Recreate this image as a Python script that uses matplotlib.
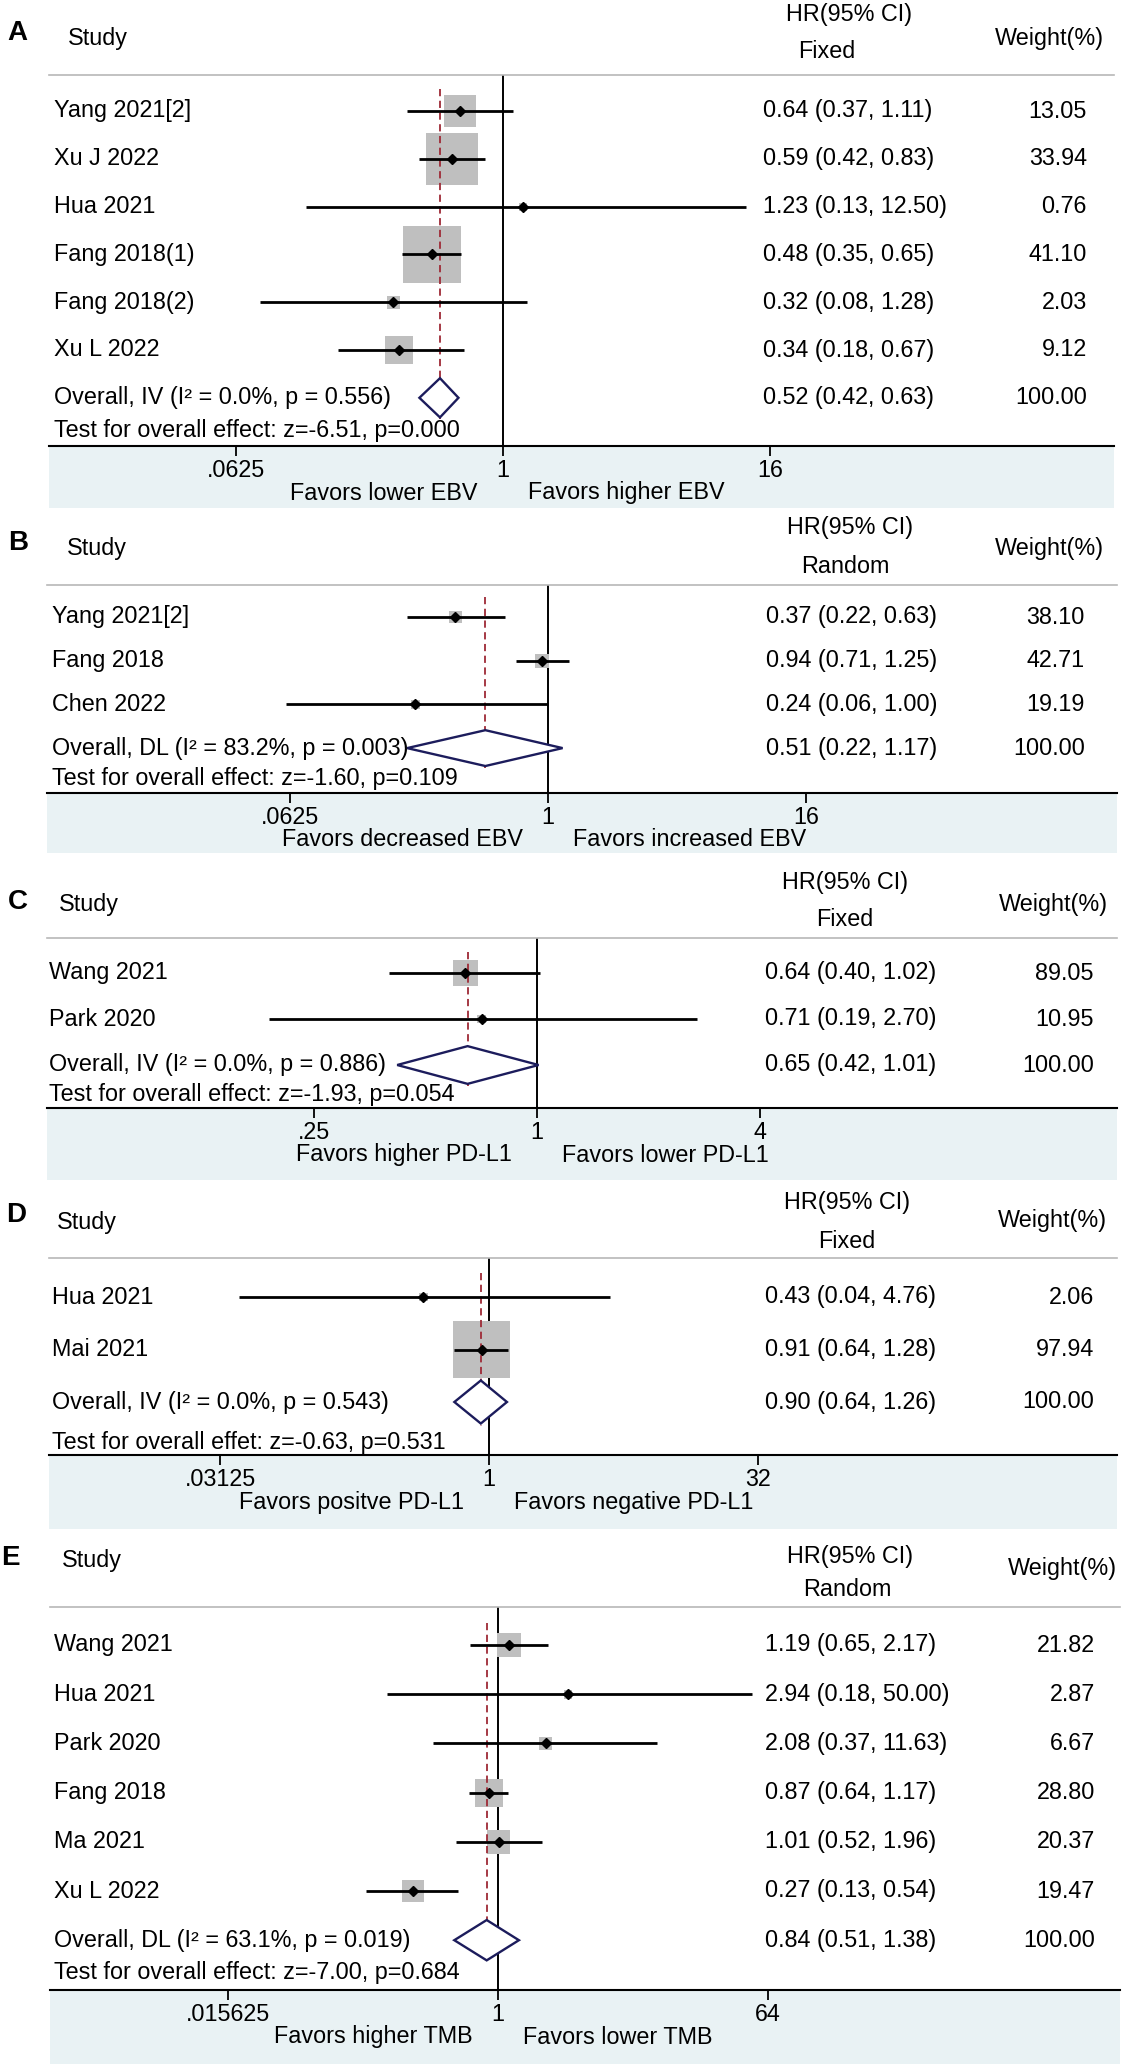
import numpy as np
import matplotlib.pyplot as plt
from matplotlib import transforms
from matplotlib.patches import Rectangle

plt.rcParams['font.family'] = ['Liberation Sans', 'DejaVu Sans']

W, H = 1123, 2067

# A: EBV lower vs higher (fixed)
a_study = ['Yang 2021[2]', 'Xu J 2022', 'Hua 2021', 'Fang 2018(1)', 'Fang 2018(2)', 'Xu L 2022']
a_hr = [0.64, 0.59, 1.23, 0.48, 0.32, 0.34]
a_lo = [0.37, 0.42, 0.13, 0.35, 0.08, 0.18]
a_hi = [1.11, 0.83, 12.50, 0.65, 1.28, 0.67]
a_weight = [13.05, 33.94, 0.76, 41.10, 2.03, 9.12]
a_overall = [0.52, 0.42, 0.63]
a_overall_label = 'Overall, IV (I² = 0.0%, p = 0.556)'
a_test = 'Test for overall effect: z=-6.51, p=0.000'
a_model = 'Fixed'
a_ticks = [0.0625, 1, 16]
a_tick_labels = ['.0625', '1', '16']
a_favors = ['Favors lower EBV', 'Favors higher EBV']

# B: EBV decreased vs increased (random)
b_study = ['Yang 2021[2]', 'Fang 2018', 'Chen 2022']
b_hr = [0.37, 0.94, 0.24]
b_lo = [0.22, 0.71, 0.06]
b_hi = [0.63, 1.25, 1.00]
b_weight = [38.10, 42.71, 19.19]
b_overall = [0.51, 0.22, 1.17]
b_overall_label = 'Overall, DL (I² = 83.2%, p = 0.003)'
b_test = 'Test for overall effect: z=-1.60, p=0.109'
b_model = 'Random'
b_ticks = [0.0625, 1, 16]
b_tick_labels = ['.0625', '1', '16']
b_favors = ['Favors decreased EBV', 'Favors increased EBV']

# C: PD-L1 higher vs lower (fixed)
c_study = ['Wang 2021', 'Park 2020']
c_hr = [0.64, 0.71]
c_lo = [0.40, 0.19]
c_hi = [1.02, 2.70]
c_weight = [89.05, 10.95]
c_overall = [0.65, 0.42, 1.01]
c_overall_label = 'Overall, IV (I² = 0.0%, p = 0.886)'
c_test = 'Test for overall effect: z=-1.93, p=0.054'
c_model = 'Fixed'
c_ticks = [0.25, 1, 4]
c_tick_labels = ['.25', '1', '4']
c_favors = ['Favors higher PD-L1', 'Favors lower PD-L1']

# D: PD-L1 positive vs negative (fixed)
d_study = ['Hua 2021', 'Mai 2021']
d_hr = [0.43, 0.91]
d_lo = [0.04, 0.64]
d_hi = [4.76, 1.28]
d_weight = [2.06, 97.94]
d_overall = [0.90, 0.64, 1.26]
d_overall_label = 'Overall, IV (I² = 0.0%, p = 0.543)'
d_test = 'Test for overall effet: z=-0.63, p=0.531'
d_model = 'Fixed'
d_ticks = [0.03125, 1, 32]
d_tick_labels = ['.03125', '1', '32']
d_favors = ['Favors positve PD-L1', 'Favors negative PD-L1']

# E: TMB higher vs lower (random)
e_study = ['Wang 2021', 'Hua 2021', 'Park 2020', 'Fang 2018', 'Ma 2021', 'Xu L 2022']
e_hr = [1.19, 2.94, 2.08, 0.87, 1.01, 0.27]
e_lo = [0.65, 0.18, 0.37, 0.64, 0.52, 0.13]
e_hi = [2.17, 50.00, 11.63, 1.17, 1.96, 0.54]
e_weight = [21.82, 2.87, 6.67, 28.80, 20.37, 19.47]
e_overall = [0.84, 0.51, 1.38]
e_overall_label = 'Overall, DL (I² = 63.1%, p = 0.019)'
e_test = 'Test for overall effect: z=-7.00, p=0.684'
e_model = 'Random'
e_ticks = [0.015625, 1, 64]
e_tick_labels = ['.015625', '1', '64']
e_favors = ['Favors higher TMB', 'Favors lower TMB']

panels = [
    ('A', a_study, a_hr, a_lo, a_hi, a_weight, a_overall, a_overall_label, a_test, a_model, a_ticks, a_tick_labels, a_favors),
    ('B', b_study, b_hr, b_lo, b_hi, b_weight, b_overall, b_overall_label, b_test, b_model, b_ticks, b_tick_labels, b_favors),
    ('C', c_study, c_hr, c_lo, c_hi, c_weight, c_overall, c_overall_label, c_test, c_model, c_ticks, c_tick_labels, c_favors),
    ('D', d_study, d_hr, d_lo, d_hi, d_weight, d_overall, d_overall_label, d_test, d_model, d_ticks, d_tick_labels, d_favors),
    ('E', e_study, e_hr, e_lo, e_hi, e_weight, e_overall, e_overall_label, e_test, e_model, e_ticks, e_tick_labels, e_favors),
]

# pixel layout of each panel (measured on the reference)
layout = [
    dict(left=49, right=1114, header=75, row0=111, sp=47.8, test=430, axis=446, shade=508, p1=503, ppu=66.8, k=9.0,
         letter=(17, 33), study=(68, 38), hrh=(849, 15), model=(827, 52), wth=(1049, 38), name_x=54, hr_x=763, wt_x=1087),
    dict(left=47, right=1117, header=585, row0=617, sp=43.7, test=778, axis=793, shade=853, p1=548, ppu=64.5, k=2.1,
         letter=(18, 543), study=(67, 548), hrh=(850, 528), model=(845, 567), wth=(1049, 548), name_x=52, hr_x=766, wt_x=1085),
    dict(left=47, right=1117, header=938, row0=973, sp=46, test=1095, axis=1108, shade=1180, p1=537, ppu=111.7, k=2.65,
         letter=(18, 902), study=(59, 904), hrh=(845, 883), model=(845, 919), wth=(1053, 904), name_x=49, hr_x=765, wt_x=1094),
    dict(left=49, right=1117, header=1258, row0=1297, sp=52.5, test=1442, axis=1455, shade=1529, p1=489, ppu=53.8, k=5.76,
         letter=(16, 1215), study=(57, 1223), hrh=(847, 1203), model=(847, 1242), wth=(1052, 1220), name_x=52, hr_x=765, wt_x=1094),
    dict(left=50, right=1120, header=1607, row0=1645, sp=49.2, test=1972, axis=1990, shade=2064, p1=498, ppu=45, k=5.2,
         letter=(10, 1558), study=(62, 1561), hrh=(850, 1556), model=(847, 1590), wth=(1062, 1569), name_x=54, hr_x=765, wt_x=1095),
]

FS = 16.8
fig = plt.figure(figsize=(W / 100, H / 100), dpi=100)


def fx(px):
    return px / W


def fy(py):
    return 1 - py / H


for (letter, study, hr, lo, hi, weight, overall, overall_label, test, model, ticks, tick_labels, favors), L in zip(panels, layout):
    n = len(study)
    ax = fig.add_axes([fx(L['left']), fy(L['axis']), (L['right'] - L['left']) / W, (L['axis'] - L['header']) / H])
    ax.patch.set_alpha(0)
    ax.set_xscale('log', base=2)
    ax.set_xlim(2 ** (-(L['p1'] - L['left']) / L['ppu']), 2 ** ((L['right'] - L['p1']) / L['ppu']))
    ax.set_ylim((L['axis'] - L['row0']) / L['sp'], (L['header'] - L['row0']) / L['sp'])

    rows = np.arange(n)
    ax.axvline(1, color='black', lw=1.4, zorder=1)
    ax.vlines(overall[0], -0.45, n + 0.45, color='#9e2a36', lw=1.3, linestyles=(0, (4, 2.5)), zorder=3)

    side = L['k'] * np.sqrt(weight) * 0.72
    ax.scatter(hr, rows, s=side ** 2, marker='s', color='#bfbfbf', linewidths=0, zorder=2)
    ax.hlines(rows, lo, hi, color='black', lw=2.0, zorder=4)
    ax.plot(hr, rows, ls='none', marker='D', ms=4.6, color='black', zorder=5)

    h = 0.41
    ax.fill([overall[1], overall[0], overall[2], overall[0]], [n, n - h, n, n + h],
            facecolor='white', edgecolor='#1c1c5c', lw=1.7, zorder=4)

    for side_name in ['left', 'right']:
        ax.spines[side_name].set_visible(False)
    ax.spines['top'].set_color('#b8b8b8')
    ax.spines['top'].set_linewidth(1.2)
    ax.spines['bottom'].set_linewidth(1.5)
    ax.set_yticks([])
    ax.xaxis.set_minor_locator(plt.NullLocator())
    ax.set_xticks(ticks, labels=tick_labels)
    ax.tick_params(axis='x', direction='out', length=7, width=1.3, labelsize=FS, pad=2.5)

    tr = transforms.blended_transform_factory(fig.transFigure, ax.transData)
    for i in range(n):
        ax.text(fx(L['name_x']), i, study[i], transform=tr, fontsize=FS, va='center', ha='left')
        ax.text(fx(L['hr_x']), i, f'{hr[i]:.2f} ({lo[i]:.2f}, {hi[i]:.2f})', transform=tr,
                fontsize=FS, va='center', ha='left')
        ax.text(fx(L['wt_x']), i, f'{weight[i]:.2f}', transform=tr, fontsize=FS, va='center', ha='right')
    ax.text(fx(L['name_x']), n, overall_label, transform=tr, fontsize=FS, va='center', ha='left')
    ax.text(fx(L['hr_x']), n, f'{overall[0]:.2f} ({overall[1]:.2f}, {overall[2]:.2f})', transform=tr,
            fontsize=FS, va='center', ha='left')
    ax.text(fx(L['wt_x']), n, f'{sum(weight):.2f}', transform=tr, fontsize=FS, va='center', ha='right')
    ax.text(fx(L['name_x']), (L['test'] - L['row0']) / L['sp'], test, transform=tr, fontsize=FS,
            va='center', ha='left')

    # header
    fig.text(fx(L['letter'][0]), fy(L['letter'][1]), letter, fontsize=20, fontweight='bold', ha='center', va='center')
    fig.text(fx(L['study'][0]), fy(L['study'][1]), 'Study', fontsize=FS, ha='left', va='center')
    fig.text(fx(L['hrh'][0]), fy(L['hrh'][1]), 'HR(95% CI)', fontsize=FS, ha='center', va='center')
    fig.text(fx(L['model'][0]), fy(L['model'][1]), model, fontsize=FS, ha='center', va='center')
    fig.text(fx(L['wth'][0]), fy(L['wth'][1]), 'Weight(%)', fontsize=FS, ha='center', va='center')

    # shaded axis band and favors labels
    fig.add_artist(Rectangle((fx(L['left']), fy(L['shade'])), (L['right'] - L['left']) / W,
                             (L['shade'] - L['axis']) / H, transform=fig.transFigure,
                             facecolor='#e9f2f4', edgecolor='none', zorder=-1))
    fav_y = fy(L['axis'] + 47)
    ax.annotate(favors[0], xy=(1, fav_y), xycoords=('data', 'figure fraction'), xytext=(-25, 0),
                textcoords='offset pixels', ha='right', va='center', fontsize=FS, annotation_clip=False)
    ax.annotate(favors[1], xy=(1, fav_y), xycoords=('data', 'figure fraction'), xytext=(25, 0),
                textcoords='offset pixels', ha='left', va='center', fontsize=FS, annotation_clip=False)

fig.savefig('out.png', dpi=100)
